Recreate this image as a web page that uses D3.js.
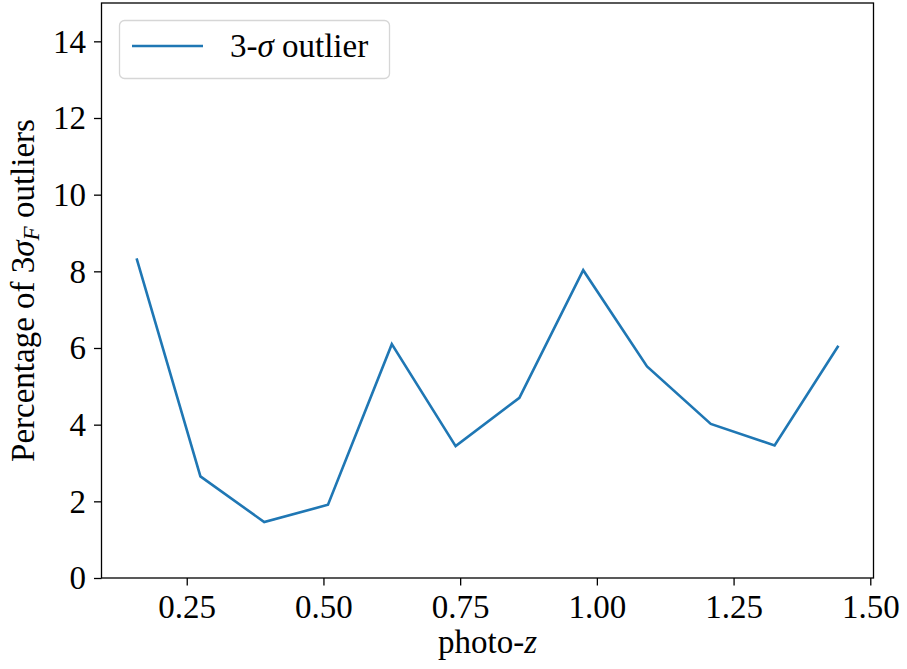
<!DOCTYPE html>
<html>
<head>
<meta charset="utf-8">
<script src="https://cdn.jsdelivr.net/npm/d3@7"></script>
<style>
  html, body { margin: 0; padding: 0; background: #fff; }
  svg { display: block; }
  text { font-family: "Liberation Serif", "DejaVu Serif", serif; fill: #000; }
</style>
</head>
<body>
<div id="chart"></div>
<script>
// Bin centres of the photo-z bins (0.1 – 1.5, 12 bins)
const photoZ = [0.1583, 0.275, 0.3917, 0.5083, 0.625, 0.7417, 0.8583, 0.975, 1.0917, 1.2083, 1.325, 1.4417];
// Percentage of 3-sigma flux outliers per bin
const outlierPct = [8.34, 2.65, 1.46, 1.91, 6.10, 3.44, 4.70, 8.03, 5.52, 4.02, 3.46, 6.06];
const xTicks = [0.25, 0.50, 0.75, 1.00, 1.25, 1.50];
const yTicks = [0, 2, 4, 6, 8, 10, 12, 14];
const seriesName = "outlier";

const W = 907, H = 669;
const plotL = 101.5, plotR = 873.5, plotT = 3, plotB = 578;

const svg = d3.select("#chart").append("svg").attr("width", W).attr("height", H);

const xPad = (d3.max(photoZ) - d3.min(photoZ)) * 0.05;
const x = d3.scaleLinear().domain([d3.min(photoZ) - xPad, d3.max(photoZ) + xPad]).range([plotL, plotR]);
const y = d3.scaleLinear().domain([0, 15]).range([plotB, plotT]);

const fontSize = 33;

// x axis
const xAxis = svg.append("g").attr("transform", `translate(0,${plotB})`)
  .call(d3.axisBottom(x).tickValues(xTicks).tickFormat(d3.format(".2f")).tickSize(7.5).tickPadding(16));
// y axis
const yAxis = svg.append("g").attr("transform", `translate(${plotL},0)`)
  .call(d3.axisLeft(y).tickValues(yTicks).tickFormat(d3.format("d")).tickSize(7.5).tickPadding(8));

[xAxis, yAxis].forEach(g => {
  g.select(".domain").remove();
  g.selectAll(".tick line").attr("stroke", "#000").attr("stroke-width", 1.3);
  g.selectAll(".tick text").attr("font-size", fontSize).attr("fill", "#000");
});
xAxis.selectAll(".tick text").attr("dy", "0.5em");
yAxis.selectAll(".tick text").attr("dy", "0.33em");

// frame
svg.append("rect")
  .attr("x", plotL).attr("y", plotT)
  .attr("width", plotR - plotL).attr("height", plotB - plotT)
  .attr("fill", "none").attr("stroke", "#000").attr("stroke-width", 1.3);

// data line
const line = d3.line().x((d, i) => x(photoZ[i])).y(d => y(d));
svg.append("path")
  .datum(outlierPct)
  .attr("d", line)
  .attr("fill", "none")
  .attr("stroke", "#1f77b4")
  .attr("stroke-width", 2.6)
  .attr("stroke-linejoin", "miter");

// axis labels
const xl = svg.append("text")
  .attr("x", (plotL + plotR) / 2).attr("y", 653)
  .attr("text-anchor", "middle").attr("font-size", fontSize);
xl.append("tspan").text("photo-");
xl.append("tspan").attr("font-style", "italic").text("z");

const yl = svg.append("text")
  .attr("transform", `translate(34,${(plotT + plotB) / 2}) rotate(-90)`)
  .attr("text-anchor", "middle").attr("font-size", fontSize);
yl.append("tspan").text("Percentage of 3");
yl.append("tspan").attr("font-style", "italic").text("σ");
yl.append("tspan").attr("font-style", "italic").attr("font-size", fontSize * 0.7).attr("dy", 5).text("F");
yl.append("tspan").attr("dy", -5).text(" outliers");

// legend
const lg = svg.append("g");
lg.append("rect")
  .attr("x", 119.5).attr("y", 20.5).attr("width", 270).attr("height", 58)
  .attr("rx", 5).attr("ry", 5)
  .attr("fill", "#fff").attr("fill-opacity", 0.8)
  .attr("stroke", "#d6d6d6").attr("stroke-width", 1.3);
lg.append("line")
  .attr("x1", 132).attr("x2", 203).attr("y1", 46).attr("y2", 46)
  .attr("stroke", "#1f77b4").attr("stroke-width", 2.6);
const lt = lg.append("text").attr("x", 230).attr("y", 57).attr("font-size", fontSize);
lt.append("tspan").text("3-");
lt.append("tspan").attr("font-style", "italic").text("σ");
lt.append("tspan").text(" " + seriesName);
</script>
</body>
</html>
